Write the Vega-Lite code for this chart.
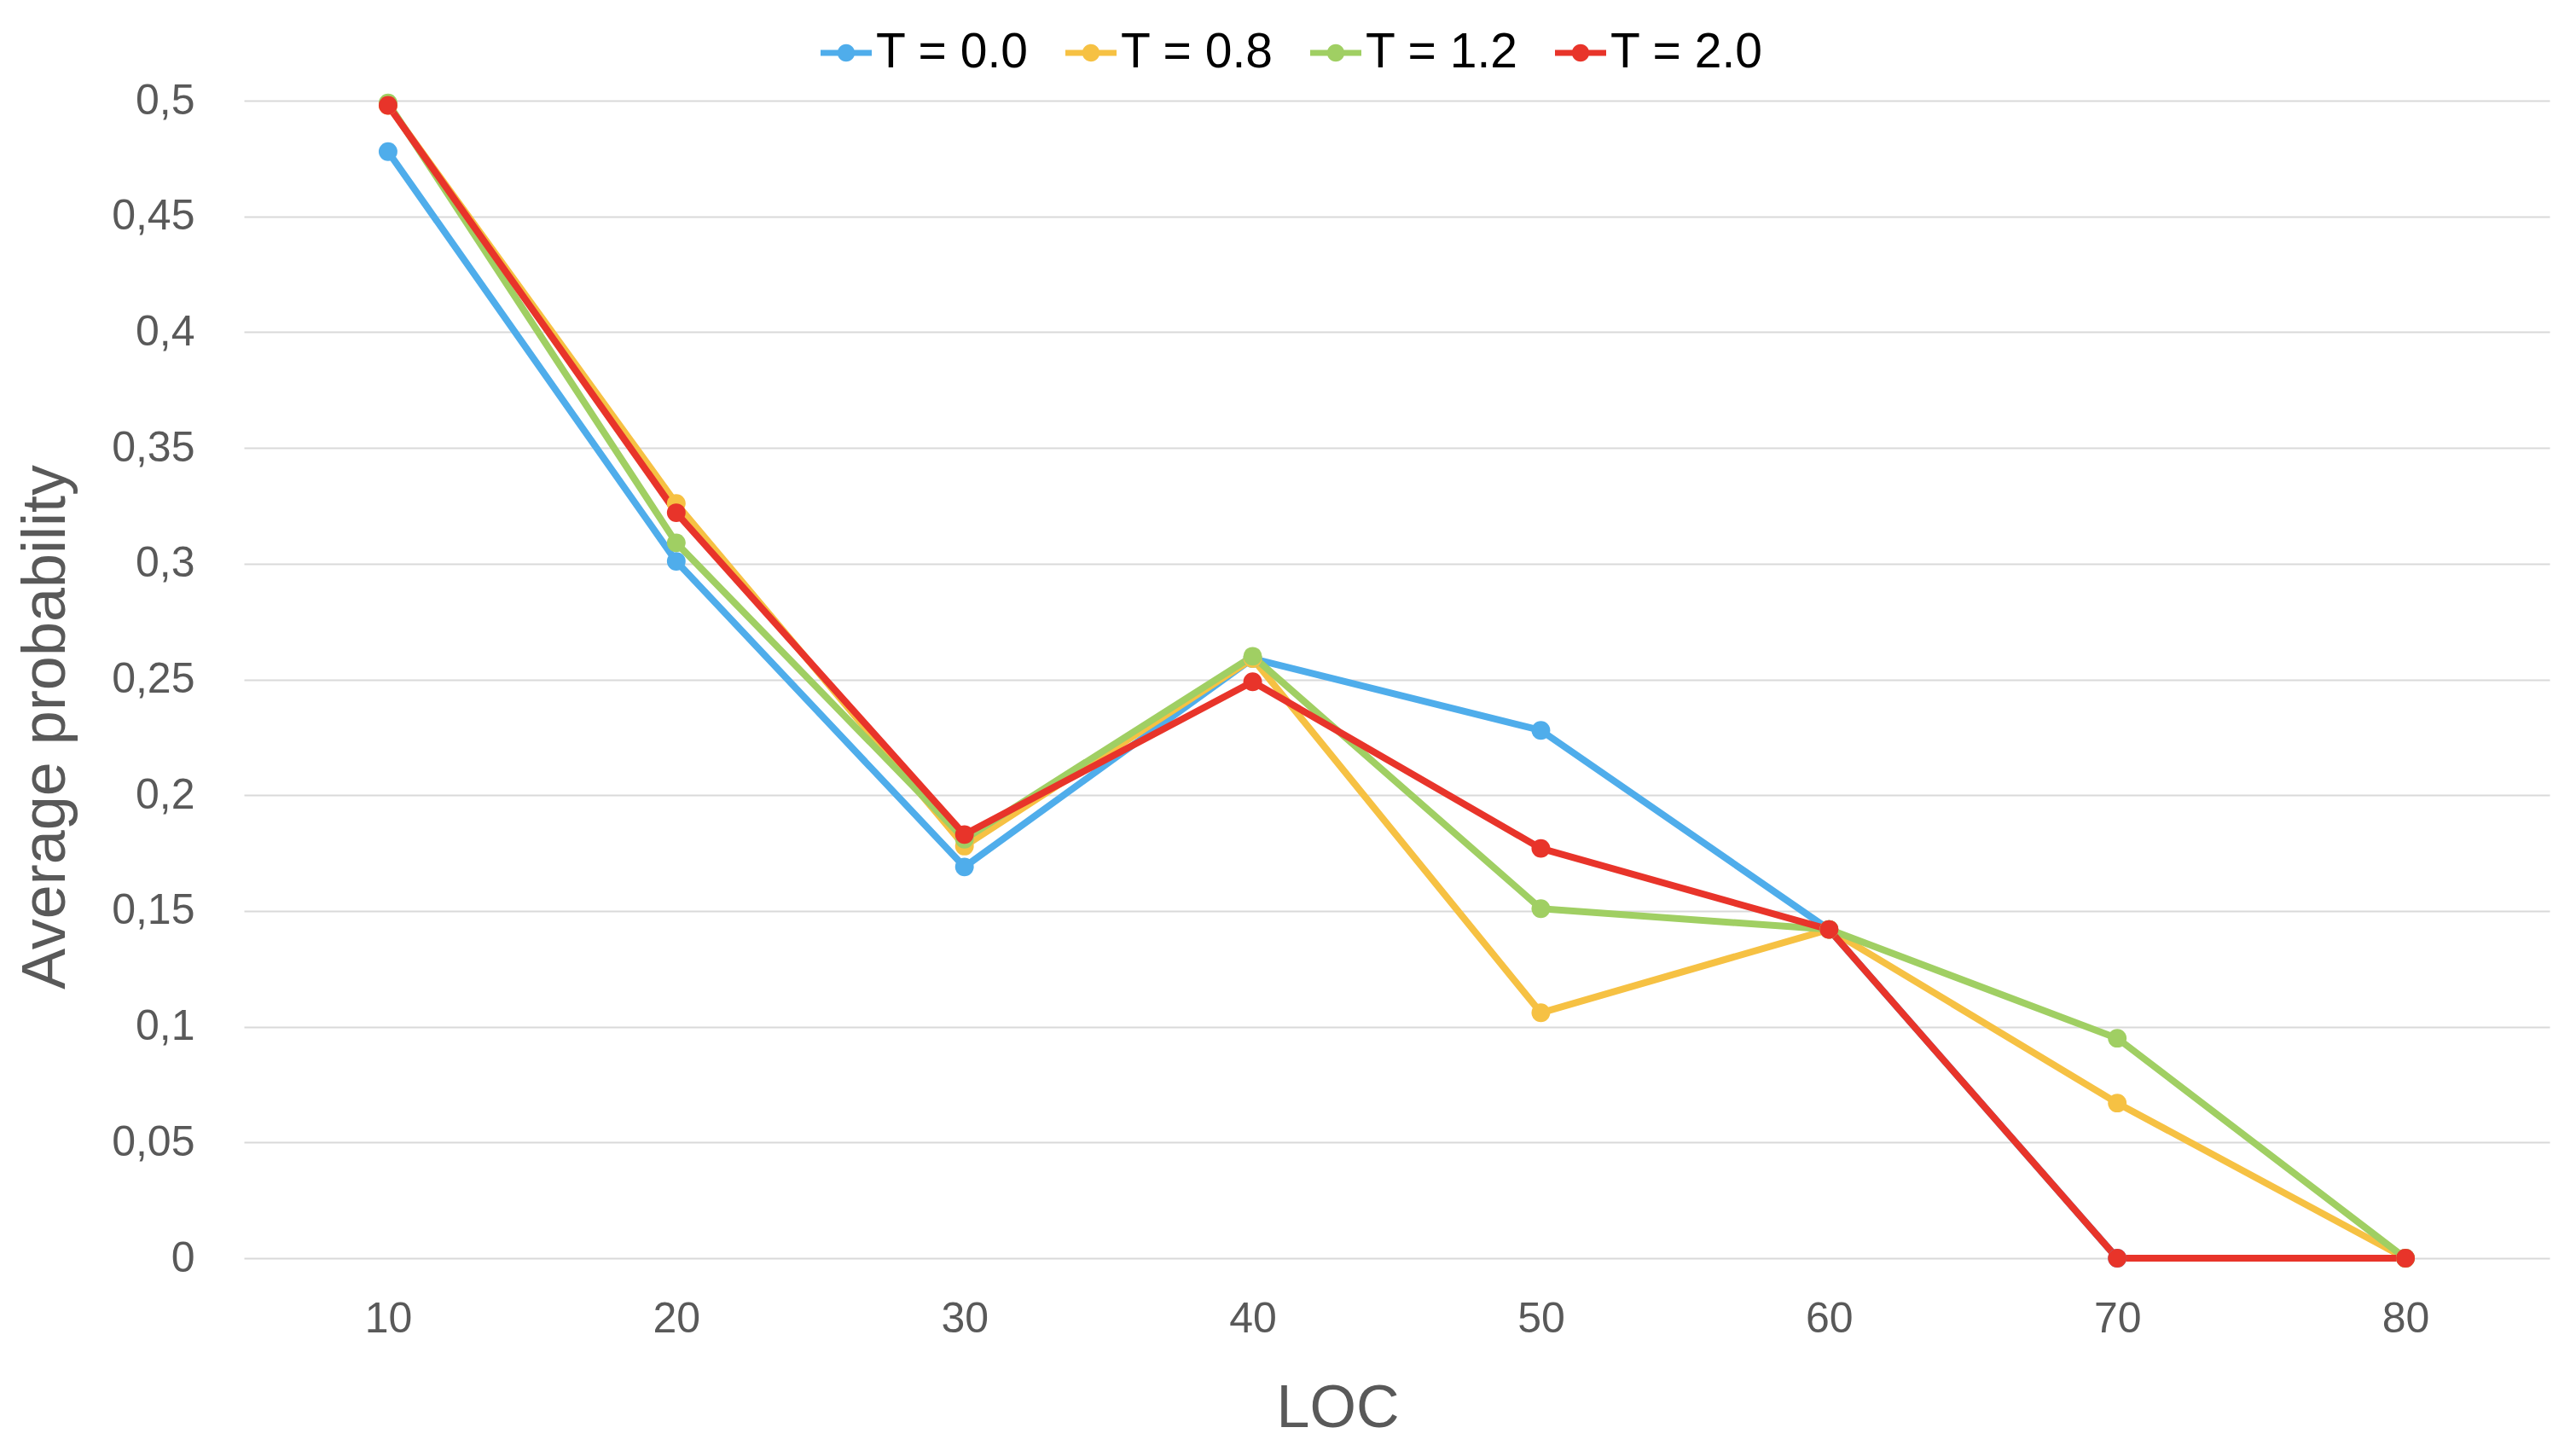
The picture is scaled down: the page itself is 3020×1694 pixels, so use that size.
{
  "$schema": "https://vega.github.io/schema/vega-lite/v6.json",
  "width": 2703,
  "height": 1357,
  "autosize": {"type": "none"},
  "padding": {"left": 286, "top": 118, "right": 31, "bottom": 219},
  "background": "white",
  "config": {
    "view": {"stroke": null},
    "font": "Liberation Sans"
  },
  "data": {
    "values": [
      {"LOC": 10, "T": "T = 0.0", "p": 0.478},
      {"LOC": 20, "T": "T = 0.0", "p": 0.301},
      {"LOC": 30, "T": "T = 0.0", "p": 0.169},
      {"LOC": 40, "T": "T = 0.0", "p": 0.259},
      {"LOC": 50, "T": "T = 0.0", "p": 0.228},
      {"LOC": 60, "T": "T = 0.0", "p": 0.142},
      {"LOC": 70, "T": "T = 0.0", "p": 0.0},
      {"LOC": 80, "T": "T = 0.0", "p": 0.0},
      {"LOC": 10, "T": "T = 0.8", "p": 0.498},
      {"LOC": 20, "T": "T = 0.8", "p": 0.326},
      {"LOC": 30, "T": "T = 0.8", "p": 0.178},
      {"LOC": 40, "T": "T = 0.8", "p": 0.259},
      {"LOC": 50, "T": "T = 0.8", "p": 0.106},
      {"LOC": 60, "T": "T = 0.8", "p": 0.142},
      {"LOC": 70, "T": "T = 0.8", "p": 0.067},
      {"LOC": 80, "T": "T = 0.8", "p": 0.0},
      {"LOC": 10, "T": "T = 1.2", "p": 0.499},
      {"LOC": 20, "T": "T = 1.2", "p": 0.309},
      {"LOC": 30, "T": "T = 1.2", "p": 0.181},
      {"LOC": 40, "T": "T = 1.2", "p": 0.26},
      {"LOC": 50, "T": "T = 1.2", "p": 0.151},
      {"LOC": 60, "T": "T = 1.2", "p": 0.142},
      {"LOC": 70, "T": "T = 1.2", "p": 0.095},
      {"LOC": 80, "T": "T = 1.2", "p": 0.0},
      {"LOC": 10, "T": "T = 2.0", "p": 0.498},
      {"LOC": 20, "T": "T = 2.0", "p": 0.322},
      {"LOC": 30, "T": "T = 2.0", "p": 0.183},
      {"LOC": 40, "T": "T = 2.0", "p": 0.249},
      {"LOC": 50, "T": "T = 2.0", "p": 0.177},
      {"LOC": 60, "T": "T = 2.0", "p": 0.142},
      {"LOC": 70, "T": "T = 2.0", "p": 0.0},
      {"LOC": 80, "T": "T = 2.0", "p": 0.0}
    ]
  },
  "encoding": {
    "x": {
      "field": "LOC",
      "type": "ordinal",
      "scale": {"type": "point", "padding": 0.5},
      "axis": {
        "title": "LOC",
        "titleFontSize": 70,
        "titleFontWeight": "normal",
        "titleColor": "#595959",
        "titleX": 1282,
        "titleY": 142,
        "titleAlign": "center",
        "titleBaseline": "top",
        "labelFontSize": 50,
        "labelColor": "#595959",
        "labelAngle": 0,
        "labelPadding": 46,
        "domain": false,
        "ticks": false,
        "grid": false
      }
    },
    "y": {
      "field": "p",
      "type": "quantitative",
      "scale": {"domain": [0, 0.5], "nice": false},
      "axis": {
        "title": "Average probability",
        "titleFontSize": 72,
        "titleFontWeight": "normal",
        "titleColor": "#595959",
        "titleX": -233,
        "titleY": 734,
        "titleAlign": "center",
        "titleBaseline": "middle",
        "titleAngle": 270,
        "values": [0, 0.05, 0.1, 0.15, 0.2, 0.25, 0.3, 0.35, 0.4, 0.45, 0.5],
        "labelExpr": "replace(format(datum.value, '~g'), '.', ',')",
        "labelFontSize": 50,
        "labelColor": "#595959",
        "labelPadding": 58,
        "domain": false,
        "ticks": false,
        "grid": true,
        "gridColor": "#d9d9d9",
        "gridWidth": 2
      }
    }
  },
  "layer": [
    {
      "mark": {"type": "line", "strokeWidth": 8, "strokeJoin": "round"},
      "encoding": {
        "color": {
          "field": "T",
          "type": "nominal",
          "scale": {
            "domain": ["T = 0.0", "T = 0.8", "T = 1.2", "T = 2.0"],
            "range": ["#4fadeb", "#f6c143", "#a0cf63", "#e8342a"]
          },
          "legend": null
        }
      }
    },
    {
      "mark": {"type": "point", "filled": true, "opacity": 1, "size": 480, "shape": "circle"},
      "encoding": {
        "color": {
          "field": "T",
          "type": "nominal",
          "legend": {
            "title": null,
            "orient": "none",
            "direction": "horizontal",
            "legendX": 676,
            "legendY": -86,
            "labelFontSize": 57,
            "labelColor": "#000000",
            "labelLimit": 0,
            "labelOffset": 5,
            "columnPadding": 42,
            "symbolSize": 3600,
            "symbolOpacity": 1,
            "symbolType": "M-1,-0.12L1,-0.12L1,0.12L-1,0.12Z M-0.34,0A0.34,0.34 0 1,1 0.34,0A0.34,0.34 0 1,1 -0.34,0Z",
            "symbolStrokeWidth": 0
          }
        }
      }
    }
  ],
  "resolve": {"legend": {"color": "independent"}}
}
